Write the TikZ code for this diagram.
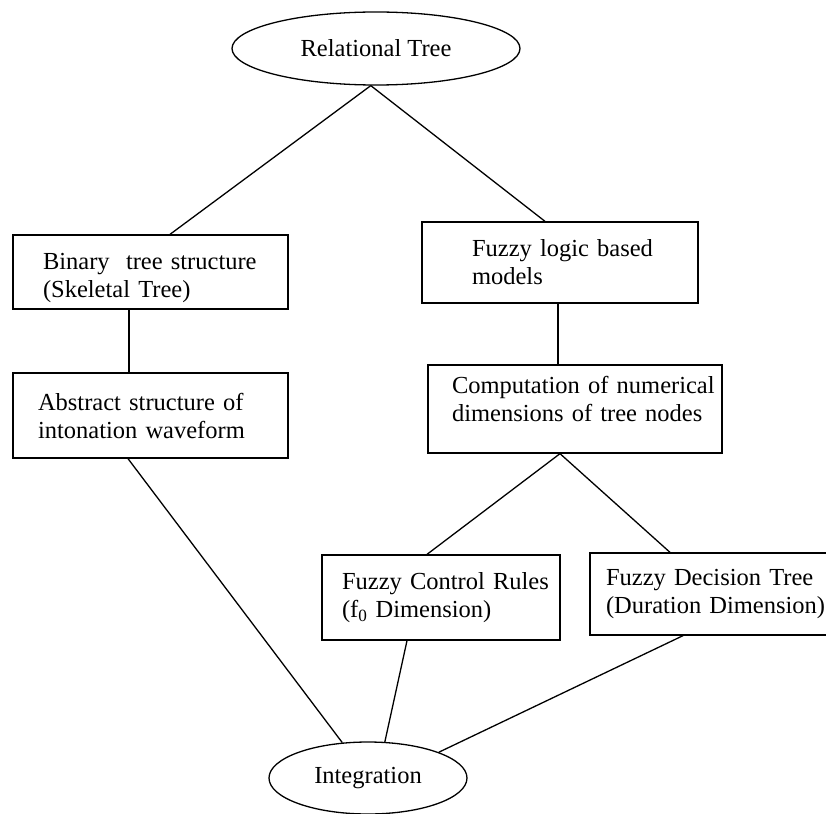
\documentclass[tikz,border=0pt]{standalone}
\usepackage{fontspec}
\setmainfont{Liberation Serif}
\usetikzlibrary{shapes.geometric}

\tikzset{
  txt/.style={font=\fontsize{24.5}{28}\selectfont},
  oval/.style={draw, ellipse, line width=1.3pt, inner sep=0pt, txt},
  stepbox/.style={draw, rectangle, line width=1.3pt, align=left, inner ysep=0pt, txt},
  link/.style={line width=1.3pt}
}

\begin{document}
\begin{tikzpicture}[x=1pt, y=-1pt]
  \clip (0,0) rectangle (826,813);
  \fill[white] (0,0) rectangle (826,813);

  % end points of the tree
  \node[oval, minimum width=288pt, minimum height=73pt] (rel) at (376,48.5) {Relational Tree};
  \node[oval, minimum width=198pt, minimum height=72pt] (integ) at (368,778) {Integration};

  % left branch
  \node[stepbox, minimum height=74pt, inner xsep=30pt, text width=215pt] (bin) at (150.5,272)
    {\rule{0pt}{29pt}\mbox{Binary\ \ tree structure}\\(Skeletal Tree)};
  \node[stepbox, minimum height=85pt, inner xsep=25pt, text width=225pt] (abs) at (150.5,415.5)
    {\mbox{Abstract structure of}\\intonation waveform};

  % right branch
  \node[stepbox, minimum height=81pt, inner xsep=50pt, text width=176pt] (fuz) at (560,262.5)
    {\mbox{Fuzzy logic based}\\models};
  \node[stepbox, minimum height=88pt, inner xsep=24pt, text width=246pt] (comp) at (575,409)
    {\mbox{Computation of numerical}\\\mbox{dimensions of tree nodes}\rule[-20pt]{0pt}{20pt}};
  \node[stepbox, minimum height=85pt, inner xsep=20pt, text width=198pt] (ctrl) at (441,597.5)
    {\mbox{Fuzzy Control Rules}\\(f\textsubscript{0} Dimension)};
  \node[stepbox, minimum height=82pt, inner xsep=16pt, text width=238pt] (dec) at (725,594)
    {\mbox{Fuzzy Decision Tree}\\\mbox{(Duration Dimension)}};

  % connectors
  \draw[link] (rel.262) -- ([xshift=19.5pt]bin.north);
  \draw[link] (rel.262) -- ([xshift=-15pt]fuz.north);
  \draw[link] ([xshift=-21.5pt]bin.south) -- ([xshift=-21.5pt]abs.north);
  \draw[link] ([xshift=-2pt]fuz.south) -- ([xshift=-17pt]comp.north);
  \draw[link] ([xshift=-15pt]comp.south) -- ([xshift=-14pt]ctrl.north);
  \draw[link] ([xshift=-15pt]comp.south) -- ([xshift=-55pt]dec.north);
  \draw[link] ([xshift=-22.5pt]abs.south) -- (integ.126);
  \draw[link] ([xshift=-34pt]ctrl.south) -- (integ.65);
  \draw[link] ([xshift=-42pt]dec.south) -- (integ.20);
\end{tikzpicture}
\end{document}
